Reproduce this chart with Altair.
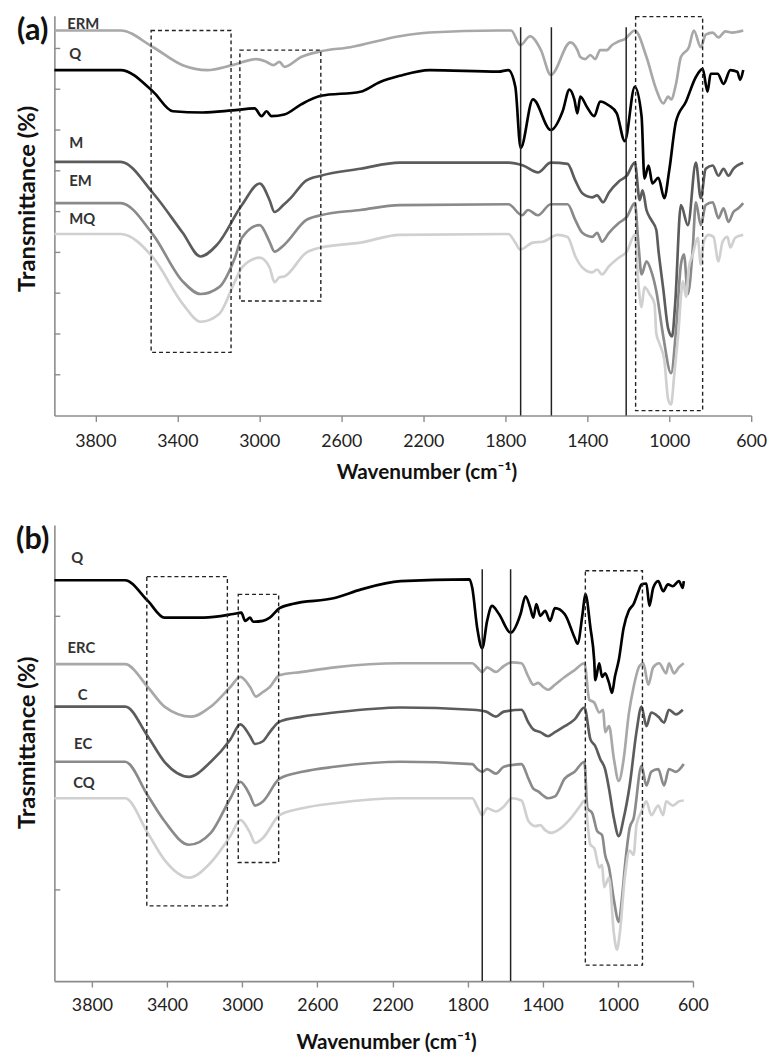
import altair as alt
import pandas as pd

FONT = "Lato"
X_TICKS = [3800, 3400, 3000, 2600, 2200, 1800, 1400, 1000, 600]

# ---------------- panel (a) ----------------
A_SERIES = ["ERM", "Q", "M", "EM", "MQ"]
A_COLORS = ["#a8a8a8", "#000000", "#5c5c5c", "#8a8a8a", "#d0d0d0"]

A_ERM = [(4000, 94.4), (3677, 94.4), (3518, 90.3), (3374, 85.9), (3254, 84.7), (3133, 85.9), (3013, 87.4),
         (2965, 86.7), (2931, 85.9), (2902, 86.7), (2878, 85.5), (2796, 87.9), (2700, 89.3), (2556, 90.3),
         (2315, 93.0), (2170, 93.9), (1833, 94.4), (1771, 94.4), (1727, 90.8), (1679, 93.0), (1626, 89.6),
         (1578, 83.5), (1482, 91.5), (1448, 89.6), (1434, 87.9), (1410, 87.4), (1385, 88.4), (1361, 87.4),
         (1337, 89.6), (1304, 89.6), (1280, 90.8), (1256, 91.5), (1232, 92.0), (1217, 92.3), (1168, 94.4),
         (1111, 87.9), (1063, 79.9), (1029, 76.5), (1005, 78.2), (991, 77.5), (967, 81.3), (943, 87.9),
         (904, 90.3), (880, 94.4), (846, 90.3), (822, 93.4), (788, 93.9), (760, 92.7), (726, 94.2),
         (692, 93.9), (639, 94.4)]
A_Q = [(4000, 84.7), (3677, 84.7), (3518, 79.4), (3422, 74.6), (3278, 74.3), (3133, 74.8), (3023, 75.3),
       (2989, 73.4), (2965, 74.6), (2941, 73.4), (2878, 73.8), (2796, 76.3), (2700, 78.4), (2507, 79.4),
       (2411, 81.8), (2315, 83.3), (2170, 84.7), (1833, 84.3), (1785, 84.7), (1751, 80.6), (1725, 65.6),
       (1665, 77.5), (1578, 70.0), (1520, 74.6), (1487, 79.9), (1463, 77.5), (1448, 74.1), (1434, 78.2),
       (1400, 75.5), (1366, 73.4), (1337, 77.0), (1294, 76.0), (1256, 74.1), (1217, 67.3), (1168, 80.6),
       (1135, 73.4), (1121, 58.1), (1101, 61.3), (1082, 56.9), (1053, 58.3), (1024, 53.3), (1000, 60.1),
       (967, 72.1), (918, 77.0), (870, 83.0), (837, 85.0), (813, 79.4), (798, 83.8), (764, 83.8),
       (735, 81.3), (702, 84.7), (668, 84.3), (654, 82.3), (639, 84.7)]
A_M = [(4000, 62.2), (3677, 62.2), (3518, 54.5), (3374, 44.8), (3287, 39.0), (3206, 41.9), (3085, 51.6),
       (2998, 56.9), (2950, 52.8), (2926, 49.9), (2883, 51.6), (2844, 53.5), (2772, 57.6), (2700, 58.8),
       (2507, 60.5), (2315, 62.0), (1785, 62.0), (1713, 61.3), (1641, 59.6), (1578, 62.0), (1496, 61.7),
       (1458, 57.6), (1424, 54.5), (1376, 53.5), (1352, 54.0), (1323, 52.3), (1294, 54.7), (1246, 57.4),
       (1207, 58.8), (1168, 62.0), (1144, 52.8), (1130, 55.2), (1111, 50.4), (1087, 47.9), (1063, 45.5),
       (1053, 40.7), (1029, 31.0), (1005, 21.3), (986, 19.4), (971, 27.4), (943, 51.6), (909, 46.7),
       (870, 62.0), (846, 53.3), (822, 60.5), (788, 61.3), (760, 58.8), (735, 60.5), (711, 58.8),
       (687, 60.5), (639, 62.0)]
A_EM = [(4000, 52.1), (3677, 52.1), (3518, 44.3), (3374, 32.9), (3287, 29.8), (3196, 31.5), (3119, 38.7),
        (3085, 43.6), (2998, 46.7), (2950, 42.6), (2926, 40.2), (2878, 41.9), (2772, 47.9), (2700, 49.1),
        (2507, 50.4), (2315, 51.6), (1785, 51.8), (1718, 49.1), (1689, 50.4), (1641, 49.1), (1578, 51.8),
        (1496, 51.8), (1458, 47.9), (1424, 44.8), (1376, 43.8), (1352, 44.8), (1328, 42.6), (1294, 44.8),
        (1246, 47.2), (1207, 48.7), (1168, 52.1), (1149, 41.2), (1135, 34.6), (1111, 37.8), (1087, 35.3),
        (1063, 30.5), (1029, 19.4), (991, 10.4), (967, 20.8), (943, 37.0), (928, 39.5), (909, 29.8),
        (885, 41.2), (870, 52.3), (846, 46.7), (822, 51.6), (788, 52.3), (760, 48.4), (735, 50.8),
        (711, 47.5), (687, 49.9), (663, 50.8), (639, 52.1)]
A_MQ = [(4000, 44.5), (3677, 44.5), (3518, 38.7), (3374, 27.4), (3287, 23.0), (3196, 24.9), (3119, 32.9),
        (3085, 36.3), (2998, 38.7), (2950, 36.3), (2926, 32.7), (2902, 33.9), (2878, 34.1), (2772, 39.9),
        (2700, 41.2), (2507, 42.4), (2315, 44.3), (1785, 44.5), (1751, 42.4), (1727, 40.7), (1665, 42.4),
        (1617, 42.6), (1545, 44.3), (1496, 43.8), (1458, 39.0), (1424, 36.3), (1376, 35.1), (1352, 35.8),
        (1328, 34.6), (1294, 36.6), (1246, 38.7), (1207, 40.2), (1168, 44.3), (1149, 31.5), (1135, 26.6),
        (1121, 31.5), (1096, 29.8), (1072, 27.4), (1063, 20.1), (1048, 17.7), (1024, 13.6), (1005, 3.9),
        (991, 2.7), (976, 9.7), (957, 19.4), (933, 32.9), (918, 29.1), (904, 36.3), (885, 39.5),
        (861, 43.6), (846, 37.0), (832, 42.6), (808, 44.3), (784, 43.8), (760, 37.8), (740, 42.6),
        (716, 43.8), (702, 41.2), (678, 43.6), (639, 44.3)]
A_DATA = [A_ERM, A_Q, A_M, A_EM, A_MQ]

A_LABEL_WN = [3937, 3928, 3928, 3928, 3928]
A_LABEL_T = [96.0, 88.6, 66.8, 57.4, 48.2]
A_VLINES = [1725, 1575, 1210]
A_VLINE_TOP = 95.2
A_BOX_X1 = [3528, 3095, 1164]
A_BOX_X2 = [3138, 2700, 837]
A_BOX_T1 = [94.4, 89.6, 97.8]
A_BOX_T2 = [15.5, 28.1, 1.2]
A_YTICKS = [10, 20, 30, 40, 50, 60, 70, 80, 90]

# ---------------- panel (b) ----------------
B_SERIES = ["Q", "ERC", "C", "EC", "CQ"]
B_COLORS = ["#000000", "#a8a8a8", "#5c5c5c", "#8a8a8a", "#d0d0d0"]

B_Q = [(4000, 87.9), (3623, 87.9), (3503, 83.4), (3414, 79.7), (3204, 79.7), (3047, 80.5), (3005, 80.8),
       (2984, 79.0), (2958, 79.7), (2942, 78.8), (2890, 79.0), (2853, 79.7), (2801, 81.8), (2733, 82.7),
       (2508, 84.0), (2366, 85.9), (2157, 87.7), (1790, 88.1), (1775, 86.2), (1749, 77.5), (1722, 73.0),
       (1696, 79.0), (1670, 82.3), (1633, 80.5), (1571, 76.4), (1518, 80.5), (1492, 84.4), (1466, 81.8),
       (1450, 79.7), (1434, 82.7), (1413, 80.1), (1387, 81.2), (1361, 79.0), (1335, 81.8), (1283, 80.5),
       (1230, 75.3), (1215, 74.0), (1188, 80.5), (1173, 84.9), (1146, 77.5), (1126, 70.4), (1120, 66.0),
       (1099, 69.7), (1084, 66.7), (1068, 67.5), (1047, 65.4), (1031, 63.2), (1016, 66.7), (995, 70.4),
       (969, 77.5), (942, 81.2), (916, 82.7), (890, 85.5), (874, 87.0), (848, 87.2), (832, 82.3),
       (812, 86.2), (785, 87.7), (759, 85.5), (733, 87.0), (707, 86.6), (675, 87.7), (654, 86.2),
       (649, 87.7)]
B_ERC = [(4000, 69.5), (3623, 69.5), (3503, 64.5), (3414, 60.2), (3272, 58.0), (3167, 60.2), (3063, 64.5),
         (3010, 66.7), (2958, 64.5), (2927, 62.4), (2890, 63.4), (2853, 64.5), (2801, 67.1), (2681, 67.8),
         (2508, 68.8), (2157, 69.7), (1775, 69.7), (1749, 68.8), (1722, 67.8), (1696, 68.8), (1649, 67.8),
         (1607, 69.1), (1565, 69.9), (1513, 69.7), (1476, 66.7), (1450, 65.0), (1424, 65.4), (1398, 64.5),
         (1372, 63.9), (1335, 65.0), (1283, 66.7), (1230, 68.2), (1178, 69.7), (1152, 61.7), (1126, 61.1),
         (1099, 58.9), (1078, 59.5), (1068, 54.6), (1047, 55.9), (1021, 48.7), (995, 43.9), (969, 48.7),
         (942, 58.5), (916, 64.5), (885, 69.1), (864, 69.7), (838, 65.0), (812, 68.8), (780, 69.7),
         (743, 67.5), (728, 69.7), (701, 67.5), (675, 68.8), (649, 69.7)]
B_C = [(4000, 60.2), (3623, 60.2), (3503, 53.7), (3414, 48.1), (3283, 44.8), (3167, 48.1), (3063, 53.0),
       (3010, 56.3), (2958, 53.7), (2932, 52.0), (2890, 52.6), (2853, 54.6), (2801, 56.9), (2681, 58.0),
       (2508, 58.9), (2157, 60.0), (1775, 59.5), (1701, 59.1), (1649, 58.0), (1607, 59.1), (1513, 59.5),
       (1476, 56.7), (1450, 55.2), (1413, 54.6), (1372, 53.7), (1335, 54.6), (1283, 55.9), (1230, 57.4),
       (1178, 60.0), (1146, 53.0), (1120, 51.5), (1094, 48.7), (1068, 46.5), (1047, 42.2), (1021, 35.7),
       (995, 31.8), (969, 35.7), (937, 42.9), (901, 54.6), (874, 60.2), (848, 55.9), (822, 58.9),
       (785, 58.0), (754, 56.7), (728, 59.5), (691, 58.5), (654, 59.5)]
B_EC = [(4000, 48.1), (3623, 48.1), (3503, 40.7), (3414, 35.1), (3283, 29.9), (3167, 32.5), (3063, 40.1),
        (3010, 43.7), (2958, 40.7), (2932, 38.5), (2890, 39.4), (2801, 44.4), (2681, 45.9), (2508, 47.0),
        (2157, 48.1), (1775, 47.6), (1749, 46.5), (1722, 45.9), (1696, 46.5), (1649, 45.5), (1607, 47.0),
        (1513, 47.6), (1476, 44.4), (1450, 42.2), (1424, 41.6), (1398, 40.7), (1372, 40.1), (1335, 40.5),
        (1283, 44.4), (1230, 45.9), (1178, 48.1), (1162, 37.9), (1136, 36.8), (1110, 32.9), (1084, 32.0),
        (1068, 27.7), (1047, 24.9), (1021, 17.8), (995, 13.0), (979, 17.8), (963, 24.9), (937, 33.6),
        (916, 35.7), (874, 47.2), (848, 42.9), (822, 45.9), (785, 46.5), (754, 42.9), (728, 46.5),
        (691, 45.9), (649, 47.6)]
B_CQ = [(4000, 40.1), (3623, 40.1), (3503, 32.5), (3414, 26.6), (3283, 22.7), (3167, 26.0), (3063, 31.8),
        (3010, 35.3), (2958, 32.5), (2932, 30.3), (2890, 31.4), (2801, 36.4), (2681, 37.9), (2508, 39.0),
        (2157, 40.1), (1775, 40.1), (1749, 38.3), (1722, 36.4), (1696, 37.9), (1649, 37.2), (1607, 38.3),
        (1565, 40.1), (1513, 39.6), (1476, 35.1), (1440, 34.0), (1413, 34.2), (1387, 33.1), (1356, 32.5),
        (1319, 33.1), (1251, 35.7), (1199, 38.5), (1178, 39.6), (1146, 29.9), (1126, 29.2), (1099, 24.9),
        (1084, 25.5), (1073, 20.6), (1047, 22.7), (1021, 10.4), (1005, 6.9), (990, 10.4), (963, 22.7),
        (937, 28.6), (916, 27.7), (901, 34.2), (874, 37.2), (848, 39.4), (822, 36.4), (785, 38.5),
        (759, 36.4), (743, 39.4), (707, 38.5), (675, 39.4), (649, 39.6)]
B_DATA = [B_Q, B_ERC, B_C, B_EC, B_CQ]

B_LABEL_WN = [3910, 3930, 3875, 3895, 3900]
B_LABEL_T = [92.7, 73.0, 62.8, 52.0, 43.5]
B_VLINES = [1722, 1571]
B_VLINE_TOP = 90.3
B_BOX_X1 = [3508, 3021, 1173]
B_BOX_X2 = [3079, 2806, 869]
B_BOX_T1 = [88.7, 84.8, 90.0]
B_BOX_T2 = [16.5, 26.0, 3.5]
B_YTICKS = [20, 80]

AXIS_GRAY = "#8c8c8c"


def panel(tag, series, colors, data, lab_wn, lab_t, vlines, vtop, bx1, bx2, bt1, bt2, yticks,
          ymax, width, height, ytitle, ytitle_y, xtitle_x, label_pad, title_pad):
    rows = []
    for name, pts in zip(series, data):
        for wn, t in pts:
            rows.append({"series": name, "wn": wn, "t": t})
    df = pd.DataFrame(rows)

    xscale = alt.Scale(domain=[600, 4000], reverse=True, nice=False, zero=False)
    yscale = alt.Scale(domain=[0, ymax], nice=False, zero=False)

    x_axis = alt.Axis(values=X_TICKS, title="Wavenumber (cm⁻¹)", grid=False, format="d",
                      domainColor=AXIS_GRAY, domainWidth=1.6, tickColor=AXIS_GRAY, tickWidth=1.4,
                      tickSize=6, labelFont=FONT, labelFontSize=18, labelColor="#222222",
                      labelPadding=label_pad, titleFont=FONT, titleFontSize=21, titleFontWeight="bold",
                      titleColor="#111111", titlePadding=title_pad, titleX=xtitle_x, labelFlush=False)
    y_axis = alt.Axis(title=ytitle, labels=False, ticks=False, grid=False, domainColor=AXIS_GRAY,
                      domainWidth=1.6, titleFont=FONT, titleFontSize=24, titleFontWeight="bold",
                      titleColor="#111111", titlePadding=15, titleY=ytitle_y)

    X = alt.X("wn:Q", scale=xscale, axis=x_axis)
    Y = alt.Y("t:Q", scale=yscale, axis=y_axis)

    lines = alt.Chart(df).mark_line(strokeWidth=2.7, interpolate="monotone").encode(
        x=X, y=Y,
        color=alt.Color("series:N", scale=alt.Scale(domain=series, range=colors), legend=None),
    )

    lab_df = pd.DataFrame({"name": series, "wn": lab_wn, "t": lab_t})
    labels = alt.Chart(lab_df).mark_text(font=FONT, fontSize=15, fontWeight="bold", color="#333333",
                                         align="left", baseline="middle").encode(
        x=X, y=Y, text="name:N")

    vl_df = pd.DataFrame({"wn": vlines, "t": [vtop] * len(vlines), "t0": [0] * len(vlines)})
    rules = alt.Chart(vl_df).mark_rule(color="#222222", strokeWidth=1.5).encode(
        x=X, y=Y, y2="t0:Q")

    box_df = pd.DataFrame({"wn": bx1, "wn2": bx2, "t": bt1, "t2": bt2})
    boxes = alt.Chart(box_df).mark_rect(fillOpacity=0, stroke="#222222", strokeWidth=1.4,
                                        strokeDash=[4, 3]).encode(
        x=X, x2="wn2:Q", y=Y, y2="t2:Q")

    tick_df = pd.DataFrame({"t": yticks})
    yt = alt.Chart(tick_df).mark_rule(color=AXIS_GRAY, strokeWidth=1.4).encode(
        y=Y, x=alt.value(0), x2=alt.value(6))

    tag_df = pd.DataFrame({"tag": [tag]})
    tag_mark = alt.Chart(tag_df).mark_text(font=FONT, fontSize=31, fontWeight="bold", color="#111111",
                                           align="center", baseline="middle").encode(
        x=alt.value(-22), y=alt.value(15), text="tag:N")

    return alt.layer(lines, boxes, rules, labels, yt, tag_mark).properties(width=width, height=height)


panel_a = panel("(a)", A_SERIES, A_COLORS, A_DATA, A_LABEL_WN, A_LABEL_T, A_VLINES, A_VLINE_TOP,
                A_BOX_X1, A_BOX_X2, A_BOX_T1, A_BOX_T2, A_YTICKS, 98, 706, 405,
                "Transmittance (%)", 185, 377, 11, 12)
panel_b = panel("(b)", B_SERIES, B_COLORS, B_DATA, B_LABEL_WN, B_LABEL_T, B_VLINES, B_VLINE_TOP,
                B_BOX_X1, B_BOX_X2, B_BOX_T1, B_BOX_T2, B_YTICKS, 100, 647, 462,
                "Trasmittance (%)", 220, 336, 10, 17)

chart = (
    alt.vconcat(panel_a, panel_b, spacing=42)
    .resolve_scale(x="independent", y="independent", color="independent")
    .properties(padding={"left": 8, "top": 0, "right": 0, "bottom": 0})
    .configure(background="white", font=FONT)
    .configure_view(stroke=None)
)

chart.save("out.html", embed_options={"renderer": "svg", "actions": False})
